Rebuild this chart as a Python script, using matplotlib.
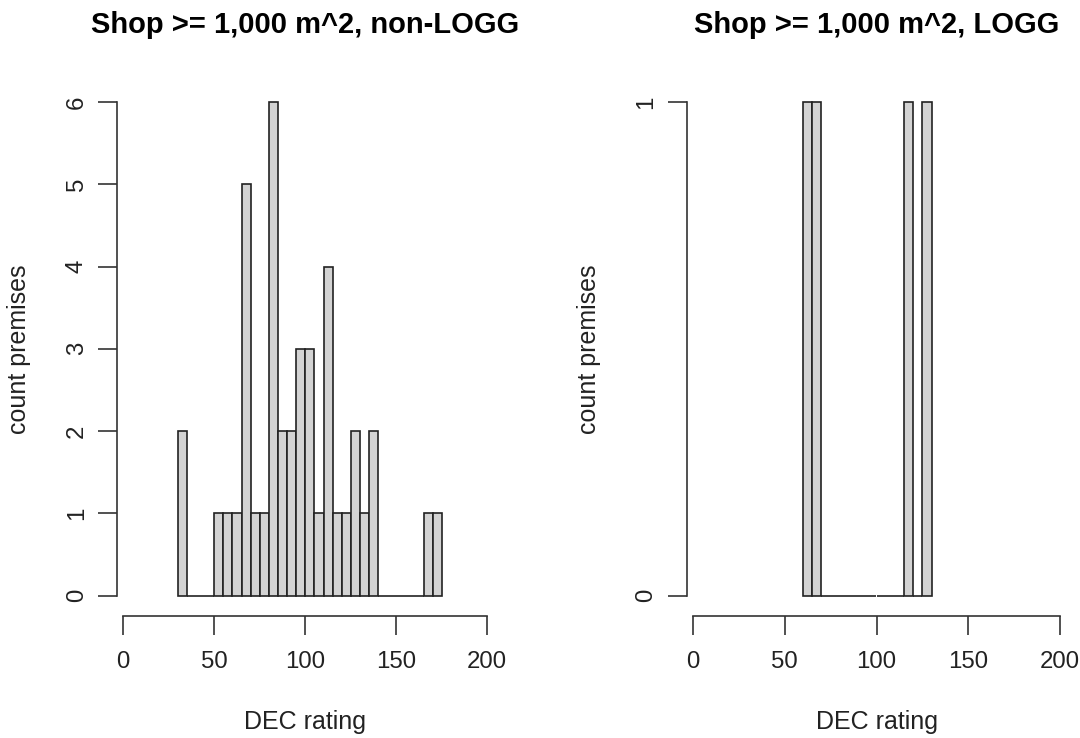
import matplotlib
matplotlib.use("Agg")
import matplotlib.pyplot as plt
import numpy as np

plt.rcParams['font.family'] = ['Liberation Sans', 'DejaVu Sans']

# histogram data (bin width 5)
left_edges = np.arange(30, 180, 5)
left_counts = [2, 0, 0, 0, 1, 1, 1, 5, 1, 1, 6, 2, 2, 3, 3, 1, 4, 1, 1, 2, 1, 2,
               0, 0, 0, 0, 0, 1, 1]
right_edges = np.arange(60, 135, 5)
right_counts = [1, 1, 0, 0, 0, 0, 0, 0, 0, 0, 0, 1, 0, 1]

titles = ["Shop >= 1,000 m^2, non-LOGG", "Shop >= 1,000 m^2, LOGG"]
xticks = [0, 50, 100, 150, 200]
left_yticks = [0, 1, 2, 3, 4, 5, 6]
right_yticks = [0, 1]

W, H = 1080, 738
fig = plt.figure(figsize=(10.8, 7.38), dpi=100)


def make_ax(l, r, t, b):
    return fig.add_axes([l / W, 1 - b / H, (r - l) / W, (b - t) / H])


ax1 = make_ax(117, 493.6, 81.7, 616)
ax2 = make_ax(686.7, 1066.3, 81.7, 616)

panels = [
    (ax1, left_edges, left_counts, left_yticks, titles[0]),
    (ax2, right_edges, right_counts, right_yticks, titles[1]),
]

for ax, edges, counts, yt, title in panels:
    ax.bar(edges[:len(counts)], counts, width=5, align='edge',
           color='#d3d3d3', edgecolor='#222222', linewidth=1.2)
    ymax = yt[-1]
    ax.set_xlim(-3.46, 203.46)
    ax.set_ylim(-0.0412 * ymax, 1.0412 * ymax)
    for s in ['top', 'right']:
        ax.spines[s].set_visible(False)
    ax.spines['left'].set_bounds(0, ymax)
    ax.spines['bottom'].set_bounds(0, 200)
    for s in ['left', 'bottom']:
        ax.spines[s].set_color('#333333')
        ax.spines[s].set_linewidth(1.2)
    ax.set_xticks(xticks)
    ax.set_yticks(yt)
    ax.set_yticklabels([str(v) for v in yt], rotation=90, va='center')
    ax.tick_params(axis='x', pad=11)
    ax.tick_params(axis='y', pad=7)
    ax.tick_params(direction='out', length=14, width=1.2, color='#333333',
                   labelsize=17.3, labelcolor='#222222')
    ax.set_xlabel("DEC rating", fontsize=18, color='#222222', labelpad=27)
    ax.set_ylabel("count premises", fontsize=18, color='#222222', labelpad=25)
    ax.set_title(title, fontsize=21, fontweight='bold', pad=35)

fig.savefig("out.png", dpi=100)
